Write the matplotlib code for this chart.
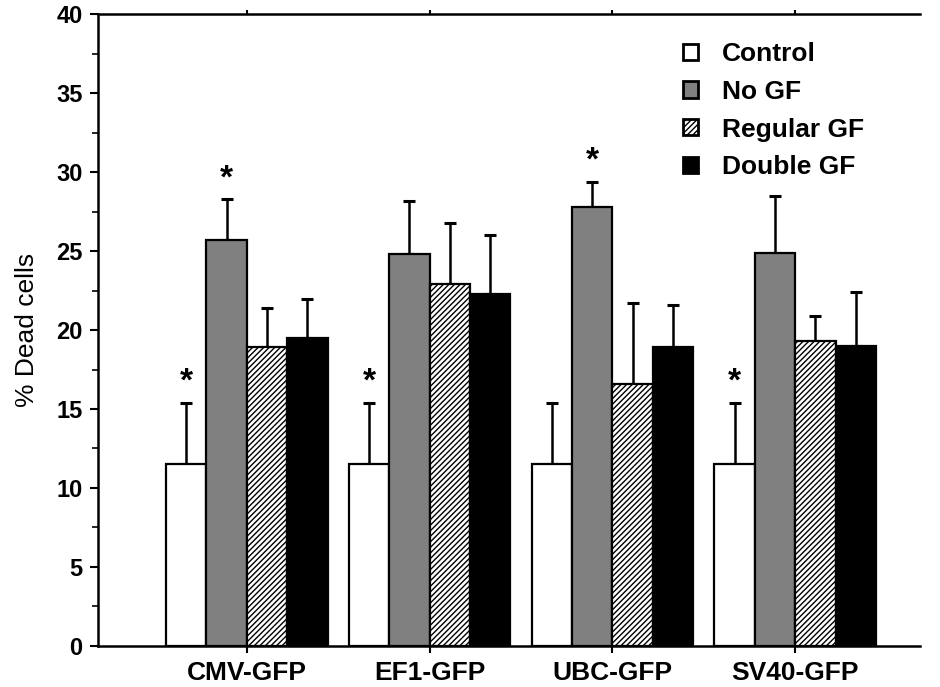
#!/usr/bin/env python3
"""Percent dead cells per promoter construct, four growth-factor conditions."""

import matplotlib
matplotlib.use("Agg")
import matplotlib.pyplot as plt
from matplotlib.ticker import MultipleLocator
import numpy as np

plt.rcParams["font.family"] = ["Liberation Sans", "DejaVu Sans"]
plt.rcParams["hatch.linewidth"] = 1.0

constructs = ["CMV-GFP", "EF1-GFP", "UBC-GFP", "SV40-GFP"]
conditions = ["Control", "No GF", "Regular GF", "Double GF"]

control = [11.5, 11.5, 11.5, 11.5]
control_err = [3.9, 3.9, 3.9, 3.9]
no_gf = [25.7, 24.8, 27.8, 24.9]
no_gf_err = [2.6, 3.4, 1.6, 3.6]
regular_gf = [18.9, 22.9, 16.6, 19.3]
regular_gf_err = [2.5, 3.9, 5.1, 1.6]
double_gf = [19.5, 22.3, 18.9, 19.0]
double_gf_err = [2.5, 3.7, 2.7, 3.4]

# significance stars: (construct index, condition index)
stars = [(0, 0), (0, 1), (1, 0), (2, 1), (3, 0)]

series = [control, no_gf, regular_gf, double_gf]
errors = [control_err, no_gf_err, regular_gf_err, double_gf_err]
styles = [
    dict(color="white"),
    dict(color="#808080"),
    dict(color="white", hatch="//////"),
    dict(color="black"),
]

fig = plt.figure(figsize=(9.4, 6.87), dpi=100)
ax = fig.add_axes([0.104, 0.06, 0.875, 0.919])

x = np.arange(len(constructs))
w = 0.221
for i, (vals, errs, st) in enumerate(zip(series, errors, styles)):
    pos = x + (i - 1.5) * w
    ax.bar(pos, vals, w, edgecolor="black", linewidth=1.6,
           label=conditions[i], zorder=2, **st)
    ax.errorbar(pos, vals, yerr=[np.zeros(len(errs)), errs], fmt="none",
                ecolor="black", elinewidth=1.8, capsize=4, capthick=2.2,
                zorder=1)

for gi, ci in stars:
    xs = x[gi] + (ci - 1.5) * w
    top = series[ci][gi] + errors[ci][gi]
    ax.text(xs, top + 0.3, "*", ha="center", va="bottom",
            fontsize=24, fontweight="bold")

ax.set_xlim(-0.8155, 3.684)
ax.set_ylim(0, 40)
ax.yaxis.set_major_locator(MultipleLocator(5))
ax.yaxis.set_minor_locator(MultipleLocator(2.5))
ax.set_xticks(x)
ax.set_xticklabels(constructs, fontsize=19, fontweight="bold")
ax.tick_params(axis="y", labelsize=17, width=1.5, length=6, pad=5)
ax.tick_params(axis="y", which="minor", width=1.2, length=4)
ax.tick_params(axis="x", width=1.5, length=5, top=True, direction="out",
               pad=6)
for t in ax.xaxis.get_major_ticks():
    t.tick2line.set_markersize(3)
ax.set_ylabel("% Dead cells", fontsize=19, labelpad=12)
for lbl in ax.get_yticklabels():
    lbl.set_fontweight("bold")

for side in ("left", "bottom", "top"):
    ax.spines[side].set_linewidth(1.8)
ax.spines["right"].set_visible(False)

leg = ax.legend(loc="upper left", bbox_to_anchor=(0.712, 0.956),
                frameon=False, borderpad=0, borderaxespad=0,
                handlelength=0.57, handleheight=0.57, handletextpad=0.9,
                labelspacing=0.52, prop=dict(size=19, weight="bold"))
for p in leg.get_patches():
    p.set_linewidth(2.0)

fig.savefig("out.png", dpi=100)
